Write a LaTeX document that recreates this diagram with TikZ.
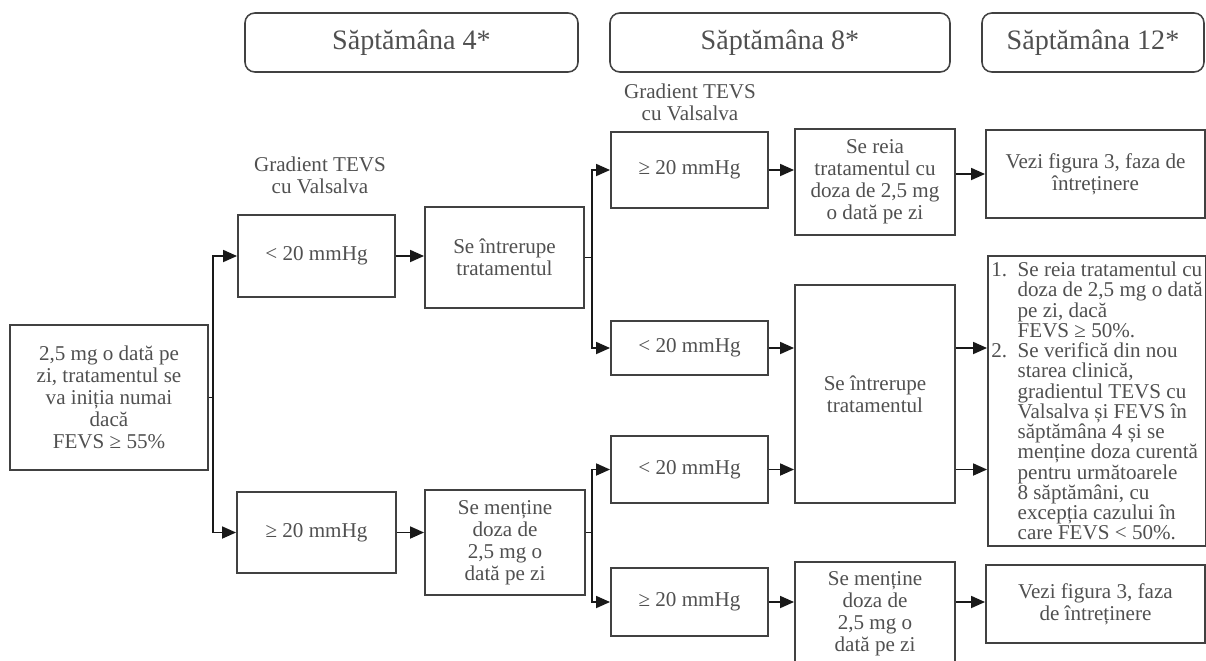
\documentclass[tikz,border=0pt]{standalone}
\usepackage{fontspec}
\setmainfont{Liberation Serif}
\usetikzlibrary{arrows.meta}

\newcommand\listpad{\hphantom{1.}\enspace}

\begin{document}
\begin{tikzpicture}[x=0.025cm, y=-0.025cm,
    cell/.style 2 args={draw=linecol, line width=1.3pt, align=center,
        minimum width=#1*\px, minimum height=#2*\px, inner sep=2pt,
        text=txtcol, font=\fontsize{15}{15.6}\selectfont},
    hdr/.style={cell={#1}{59}, line width=1.1pt, rounded corners=7pt,
        font=\fontsize{20}{24}\selectfont},
    lbl/.style={align=center, text=txtcol, font=\fontsize{15}{15.6}\selectfont},
    arr/.style={-{Triangle[length=10pt,width=8.5pt]}, line width=1.4pt, draw=black!90}]

% --- parameters ---
\def\px{0.025cm}   % one pixel of the layout

% --- colors ---
\definecolor{linecol}{RGB}{65,65,65}
\definecolor{txtcol}{RGB}{80,80,80}

\useasboundingbox (0,0) rectangle (1206,660);

% --- week headers ---
\foreach \n/\cx/\w/\t in {hdrA/411.5/333/{Săptămâna 4*},
                           hdrB/780/340/{Săptămâna 8*},
                           hdrC/1093/222/{Săptămâna 12*}} {
    \node[hdr=\w] (\n) at (\cx, 42.5) {\t};
}

% --- gradient labels ---
\node[lbl] (gradA) at (320, 175) {Gradient TEVS\\cu Valsalva};
\node[lbl] (gradB) at (690, 102) {Gradient TEVS\\cu Valsalva};

% --- start ---
\node[cell={198}{145}] (start) at (109, 397.5)
    {2,5 mg o dată pe\\zi, tratamentul se\\va iniția numai\\dacă\\FEVS ≥ 55\%};

% --- week 4 ---
\node[cell={157}{82}]  (ltA)   at (316.5, 256)   {< 20 mmHg};
\node[cell={159}{81}]  (geA)   at (316.5, 532.5) {≥ 20 mmHg};
\node[cell={159}{101}] (stopA) at (504.5, 257.5) {Se întrerupe\\tratamentul};
\node[cell={160}{105}] (keepA) at (505, 542.5)
    {Se menține\\doza de\\2,5 mg o\\dată pe zi};

% --- week 8 ---
\node[cell={157}{76}] (geB) at (689.5, 170)   {≥ 20 mmHg};
\node[cell={157}{54}] (ltB) at (689.5, 348)   {< 20 mmHg};
\node[cell={157}{67}] (ltC) at (689.5, 469.5) {< 20 mmHg};
\node[cell={157}{68}] (geC) at (689.5, 602)   {≥ 20 mmHg};

\node[cell={160}{106}] (resume) at (875, 182)
    {Se reia\\tratamentul cu\\doza de 2,5 mg\\o dată pe zi};
\node[cell={160}{218}] (stopB) at (875, 394) {Se întrerupe\\tratamentul};
\node[cell={160}{103}] (keepB) at (875, 613.5)
    {Se menține\\doza de\\2,5 mg o\\dată pe zi};

% --- week 12 ---
\node[cell={219}{88}] (seeA) at (1095.5, 174)
    {Vezi figura 3, faza de\\întreținere};
\node[cell={218}{290}, align=left, font=\fontsize{15}{14.4}\selectfont]
    (plan) at (1097, 401)
    {1.\enspace Se reia tratamentul cu\\
     \listpad doza de 2,5 mg o dată\\
     \listpad pe zi, dacă\\
     \listpad FEVS ≥ 50\%.\\
     2.\enspace Se verifică din nou\\
     \listpad starea clinică,\\
     \listpad gradientul TEVS cu\\
     \listpad Valsalva și FEVS în\\
     \listpad săptămâna 4 și se\\
     \listpad menține doza curentă\\
     \listpad pentru următoarele\\
     \listpad 8 săptămâni, cu\\
     \listpad excepția cazului în\\
     \listpad care FEVS < 50\%.};
\node[cell={219}{78}] (seeB) at (1095.5, 604)
    {Vezi figura 3, faza\\de întreținere};

% --- branch trunks ---
\coordinate (trkA) at (213, 0);
\coordinate (trkB) at (592, 0);

% --- connectors, week 4 ---
\draw[arr] (start.east) -| (trkA |- ltA.west) -- (ltA.west);
\draw[arr] (start.east) -| (trkA |- geA.west) -- (geA.west);
\draw[arr] (ltA.east) -- (ltA.east -| stopA.west);
\draw[arr] (geA.east) -- (geA.east -| keepA.west);

% --- connectors, week 8 ---
\draw[arr] (stopA.east) -| (trkB |- geB.west) -- (geB.west);
\draw[arr] (stopA.east) -| (trkB |- ltB.west) -- (ltB.west);
\draw[arr] (keepA.east |- geA.east) -| (trkB |- ltC.west) -- (ltC.west);
\draw[arr] (keepA.east |- geA.east) -| (trkB |- geC.west) -- (geC.west);

\draw[arr] (geB.east) -- (geB.east -| resume.west);
\draw[arr] (ltB.east) -- (ltB.east -| stopB.west);
\draw[arr] (ltC.east) -- (ltC.east -| stopB.west);
\draw[arr] (geC.east) -- (geC.east -| keepB.west);

% --- connectors, week 12 ---
\draw[arr] (resume.east |- seeA.west) -- (seeA.west);
\draw[arr] (stopB.east |- ltB.east) -- (plan.west |- ltB.east);
\draw[arr] (stopB.east |- ltC.east) -- (plan.west |- ltC.east);
\draw[arr] (keepB.east |- geC.east) -- (seeB.west |- geC.east);

\end{tikzpicture}
\end{document}
